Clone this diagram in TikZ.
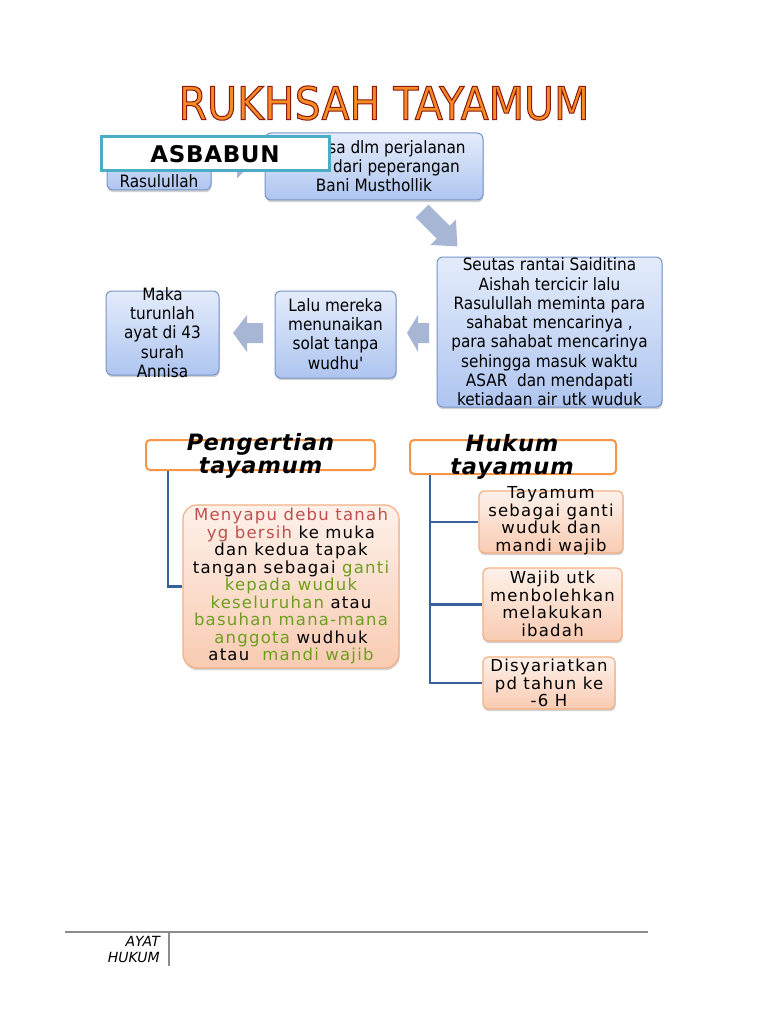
\documentclass[tikz,border=0pt]{standalone}
\usepackage{fontspec}
\setmainfont{DejaVu Sans}
\newfontfamily\condf{DejaVu Sans Condensed}
\newfontfamily\spf{DejaVu Sans}[LetterSpace=7.5]
\newfontfamily\hdf{DejaVu Sans}[LetterSpace=4]
\newfontfamily\asf{DejaVu Sans}[LetterSpace=3]
\usetikzlibrary{shadows,calc}
\definecolor{bluetop}{RGB}{228,236,251}
\definecolor{bluebot}{RGB}{174,197,240}
\definecolor{blueline}{RGB}{118,148,198}
\definecolor{arrowfill}{RGB}{166,182,212}
\definecolor{asbline}{RGB}{75,172,198}
\definecolor{hdrline}{RGB}{247,150,70}
\definecolor{pinktop}{RGB}{253,241,234}
\definecolor{pinkbot}{RGB}{249,203,178}
\definecolor{pinkline}{RGB}{244,176,132}
\definecolor{connline}{RGB}{58,96,156}
\definecolor{txtred}{RGB}{192,80,77}
\definecolor{txtgreen}{RGB}{110,158,30}
\definecolor{footgray}{RGB}{140,140,140}
\definecolor{titlefill}{RGB}{245,140,35}
\tikzset{
  shad/.style={drop shadow={shadow xshift=0.6pt,shadow yshift=-2.2pt,opacity=0.35}},
  bluebox/.style={draw=blueline, line width=1pt, rounded corners=6pt, top color=bluetop, bottom color=bluebot, shad, inner sep=0pt},
  pinkbox/.style={draw=pinkline, line width=1.2pt, rounded corners=14pt, top color=pinktop, bottom color=pinkbot, shad, inner sep=0pt},
  hkbox/.style={draw=pinkline, line width=1.2pt, rounded corners=5pt, top color=pinktop, bottom color=pinkbot, shad, inner sep=0pt},
  hdrbox/.style={draw=hdrline, line width=2pt, rounded corners=4pt, fill=white, inner sep=0pt},
  asbbox/.style={draw=asbline, line width=3pt, fill=white, inner sep=0pt},
  btxt/.style={font=\condf\fontsize{17}{19.3}\selectfont, align=center, inner sep=0pt},
  ptxt/.style={font=\spf\fontsize{16.5}{17.5}\selectfont, align=center, inner sep=0pt},
  htxt/.style={font=\hdf\fontsize{22.5}{23}\selectfont\bfseries\itshape, align=center, inner sep=0pt},
  blockarrow/.style={fill=arrowfill, draw=none},
  conn/.style={draw=connline, line width=2.5pt},
  foot/.style={draw=footgray, line width=2.5pt},
  foottxt/.style={font=\fontsize{14}{16}\selectfont\itshape, inner sep=0pt, anchor=east}
}
\begin{document}
\begin{tikzpicture}[x=1pt,y=-1pt]
\useasboundingbox[fill=white] (0,0) rectangle (768,1024);

% title
\node[font=\condf\fontsize{45.5}{50}\selectfont, text=titlefill, inner sep=0pt] (ttl) at (384,103)
  {\special{pdf:code 2 Tr 1 w 0.55 0.1 0.05 RG}RUKHSAH TAYAMUM\special{pdf:code 0 Tr 0 0 0 RG}};

% upper chain
\node[bluebox, minimum width=104pt, minimum height=50pt] (b1) at (159,165) {};
\node[btxt] (t1) at (159,181) {Rasulullah};
\fill[blockarrow] (222,150) -- (237,150) -- (237,141.5) -- (255,160) -- (237,178.5) -- (237,170) -- (222,170) -- cycle;
\node[bluebox, minimum width=218pt, minimum height=67pt] (b2) at (374,166.5) {};
\node[btxt] (t2) at (374,166) {\hspace*{46pt}sa dlm perjalanan\\\hspace*{45pt}dari peperangan\\Bani Musthollik};
\node[asbbox, minimum width=228pt, minimum height=34pt, font=\asf\fontsize{23}{24}\selectfont\bfseries] (asb) at (215,154) {ASBABUN};

\fill[blockarrow] (428.4,204.6) -- (449.6,225.8) -- (455.9,219.5) -- (457.4,246.4) -- (430.5,244.9) -- (436.8,238.6) -- (415.6,217.4) -- cycle;

\node[bluebox, minimum width=225pt, minimum height=150pt] (b3) at (549.5,332) {};
\node[btxt] (t3) at (549.5,332) {Seutas rantai Saiditina\\Aishah tercicir lalu\\Rasulullah meminta para\\sahabat mencarinya ,\\para sahabat mencarinya\\sehingga masuk waktu\\ASAR\ \ dan mendapati\\ketiadaan air utk wuduk};

\fill[blockarrow] (429,323) -- (418,323) -- (418,315) -- (407,333) -- (418,352) -- (418,343) -- (429,343) -- cycle;

\node[bluebox, minimum width=121pt, minimum height=87pt] (b4) at (335.5,334.5) {};
\node[btxt] (t4) at (335.5,334) {Lalu mereka\\menunaikan\\solat tanpa\\wudhu'};

\fill[blockarrow] (263,323) -- (247,323) -- (247,315) -- (233,333) -- (247,352) -- (247,343) -- (263,343) -- cycle;

\node[bluebox, minimum width=113pt, minimum height=84pt] (b5) at (162.5,333) {};
\node[btxt] (t5) at (162.5,332.5) {Maka\\turunlah\\ayat di 43\\surah\\Annisa};

% lower section
\node[hdrbox, minimum width=229pt, minimum height=30pt] (pg) at (260.5,455) {};
\node[htxt] (pgt) at (260.5,455.5) {Pengertian\\tayamum};
\node[hdrbox, minimum width=206pt, minimum height=34pt] (hk) at (513,457) {};
\node[htxt] (hkt) at (512,457) {Hukum\\tayamum};

\node[pinkbox, minimum width=216pt, minimum height=163pt] (pk) at (291,586.5) {};
\node[ptxt] (pkt) at (291,586) {{\color{txtred}Menyapu debu tanah}\\{\color{txtred}yg bersih} ke muka\\dan kedua tapak\\tangan sebagai {\color{txtgreen}ganti}\\{\color{txtgreen}kepada wuduk}\\{\color{txtgreen}keseluruhan} atau\\{\color{txtgreen}basuhan mana-mana}\\{\color{txtgreen}anggota} wudhuk\\atau \ {\color{txtgreen}mandi wajib}};

\node[hkbox, minimum width=144pt, minimum height=62pt] (h1) at (551,522) {};
\node[ptxt] (h1t) at (551,520.5) {Tayamum\\sebagai ganti\\wuduk dan\\mandi wajib};
\node[hkbox, minimum width=139pt, minimum height=73pt] (h2) at (552.5,604.5) {};
\node[ptxt] (h2t) at (552.5,604) {Wajib utk\\menbolehkan\\melakukan\\ibadah};
\node[hkbox, minimum width=132pt, minimum height=52pt] (h3) at (549,683) {};
\node[ptxt] (h3t) at (549,683) {Disyariatkan\\pd tahun ke\\-6 H};

\draw[conn] ($(pg.south west)+(23,0)$) |- (pk.west);
\coordinate (hkroot) at ($(hk.south west)+(21,0)$);
\draw[conn] (hkroot) |- (h1.west);
\draw[conn] (hkroot) |- (h2.west);
\draw[conn] (hkroot) |- (h3.west);

% footer
\coordinate (fl) at (65,932);
\coordinate (fr) at (648,932);
\coordinate (vt) at (169,932);
\coordinate (vb) at (169,966);
\draw[foot] (fl) -- (fr);
\draw[foot] (vt) -- (vb);
\node[foottxt] (ay) at (160,941) {AYAT};
\node[foottxt] (hu) at (160,957) {HUKUM};
\end{tikzpicture}
\end{document}
